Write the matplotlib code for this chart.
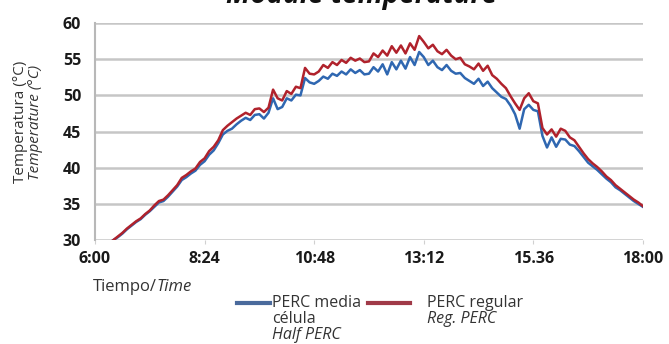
import numpy as np
import matplotlib
matplotlib.use("Agg")
import matplotlib.pyplot as plt
from matplotlib.lines import Line2D

plt.rcParams['font.family'] = ['Open Sans', 'DejaVu Sans']

# time of day in decimal hours
hours = [6.4, 6.5, 6.6, 6.7, 6.8, 6.9, 7.0, 7.1, 7.2, 7.3, 7.4, 7.5, 7.6, 7.7, 7.8, 7.9,
         8.0, 8.1, 8.2, 8.3, 8.4, 8.5, 8.6, 8.7, 8.8, 8.9, 9.0, 9.1, 9.2, 9.3, 9.4, 9.5,
         9.6, 9.7, 9.8, 9.9, 10.0, 10.1, 10.2, 10.3, 10.4, 10.5, 10.6, 10.7, 10.8, 10.9,
         11.0, 11.1, 11.2, 11.3, 11.4, 11.5, 11.6, 11.7, 11.8, 11.9, 12.0, 12.1, 12.2,
         12.3, 12.4, 12.5, 12.6, 12.7, 12.8, 12.9, 13.0, 13.1, 13.2, 13.3, 13.4, 13.5,
         13.6, 13.7, 13.8, 13.9, 14.0, 14.1, 14.2, 14.3, 14.4, 14.5, 14.6, 14.7, 14.8,
         14.9, 15.0, 15.1, 15.2, 15.3, 15.4, 15.5, 15.6, 15.7, 15.8, 15.9, 16.0, 16.1,
         16.2, 16.3, 16.4, 16.5, 16.6, 16.7, 16.8, 16.9, 17.0, 17.1, 17.2, 17.3, 17.4,
         17.5, 17.6, 17.7, 17.8, 17.9, 18.0]

# PERC regular (red)
temp_reg = [30.0, 30.5, 31.0, 31.6, 32.1, 32.6, 33.0, 33.6, 34.1, 34.8, 35.4, 35.6, 36.2,
            36.9, 37.6, 38.6, 39.0, 39.5, 39.9, 40.8, 41.3, 42.3, 42.9, 43.8, 45.2, 45.8,
            46.3, 46.8, 47.2, 47.6, 47.3, 48.1, 48.2, 47.7, 48.3, 50.8, 49.6, 49.3, 50.6,
            50.2, 51.2, 51.0, 53.8, 53.0, 52.9, 53.3, 54.2, 53.8, 54.6, 54.2, 54.9, 54.5,
            55.2, 54.8, 55.1, 54.6, 54.7, 55.8, 55.3, 56.2, 55.5, 56.8, 55.9, 56.9, 55.8,
            57.2, 56.3, 58.2, 57.4, 56.5, 57.0, 56.1, 55.7, 56.3, 55.5, 55.0, 55.2, 54.3,
            54.0, 53.6, 54.4, 53.4, 54.1, 52.8, 52.3, 51.6, 51.0, 49.9, 48.9, 48.0, 49.6,
            50.3, 49.2, 48.9, 45.5, 44.6, 45.3, 44.3, 45.4, 45.1, 44.2, 43.8, 42.9, 42.0,
            41.2, 40.6, 40.1, 39.5, 38.8, 38.3, 37.6, 37.1, 36.6, 36.1, 35.6, 35.2, 34.7]

# PERC media celula / half cell (blue)
temp_half = [30.0, 30.4, 30.9, 31.5, 32.0, 32.5, 32.9, 33.5, 34.0, 34.6, 35.2, 35.4, 36.0,
             36.7, 37.4, 38.3, 38.7, 39.2, 39.6, 40.4, 40.9, 41.8, 42.4, 43.4, 44.6, 45.1,
             45.4, 46.0, 46.5, 46.9, 46.6, 47.3, 47.4, 46.8, 47.6, 49.6, 48.1, 48.4, 49.6,
             49.3, 50.1, 50.0, 52.4, 51.8, 51.6, 52.0, 52.6, 52.3, 53.0, 52.7, 53.3, 52.9,
             53.6, 53.1, 53.5, 52.9, 53.0, 53.9, 53.3, 54.3, 52.9, 54.6, 53.6, 54.8, 53.7,
             55.3, 54.2, 56.0, 55.3, 54.2, 54.8, 53.9, 53.5, 54.2, 53.4, 53.0, 53.1, 52.4,
             52.0, 51.6, 52.3, 51.3, 51.9, 51.0, 50.4, 49.8, 49.5, 48.6, 47.4, 45.4, 48.1,
             48.7, 48.0, 47.8, 44.4, 42.8, 44.2, 42.9, 44.0, 43.9, 43.2, 43.0, 42.3, 41.5,
             40.7, 40.2, 39.7, 39.1, 38.5, 38.0, 37.3, 36.9, 36.4, 35.9, 35.4, 35.0, 34.6]

x_ticks = [6.0, 8.4, 10.8, 13.2, 15.6, 18.0]
x_ticklabels = ['6:00', '8:24', '10:48', '13:12', '15.36', '18:00']
y_ticks = [30, 35, 40, 45, 50, 55, 60]

blue = '#2f67b1'
red = '#b0222c'

fig = plt.figure(figsize=(6.69, 3.44), dpi=100)
ax = fig.add_axes([0.142, 0.302, 0.819, 0.631])

# gridlines
for v in y_ticks:
    ax.axhline(v, color='#c6c6c6', lw=1.8, zorder=1)

ax.plot(hours, temp_half, color=blue, lw=1.8, zorder=3)
ax.plot(hours, temp_reg, color=red, lw=1.8, zorder=4)

ax.set_xlim(6, 18)
ax.set_ylim(30, 60)
ax.set_xticks(x_ticks)
ax.set_xticklabels(x_ticklabels)
ax.set_yticks(y_ticks)
for s in ['top', 'right', 'bottom']:
    ax.spines[s].set_visible(False)
ax.spines['left'].set_color('#b8b8b8')
ax.spines['left'].set_linewidth(1.5)
ax.tick_params(axis='y', length=0, pad=10)
ax.tick_params(axis='x', length=3, color='#d0d0d0', pad=5)
for lab in ax.get_xticklabels() + ax.get_yticklabels():
    lab.set_fontsize(11.5)
    lab.set_fontweight('bold')
    lab.set_color('#1a1a1a')

# title, mostly cut off at the top edge as in the source image
fig.text(0.54, 1 - 3 / 344, 'Module temperature', ha='center', va='baseline',
         fontsize=20, fontweight='bold', fontstyle='italic', color='#111111')

# y axis label (two languages)
fig.text(0.030, 0.645, 'Temperatura (°C)', rotation=90, ha='center', va='center',
         fontsize=11, color='#333333')
fig.text(0.053, 0.645, 'Temperature (°C)', rotation=90, ha='center', va='center',
         fontsize=11, fontstyle='italic', color='#333333')

# x axis label
t1 = fig.text(0.139, 0.166, 'Tiempo/', ha='left', va='center', fontsize=12, color='#333333')
fig.canvas.draw()
bb = t1.get_window_extent()
fig.text(bb.x1 / fig.bbox.width, 0.166, 'Time', ha='left', va='center', fontsize=12,
         fontstyle='italic', color='#333333')

# legend
ly = 1 - 303 / 344
fig.add_artist(Line2D([237 / 669, 270 / 669], [ly, ly], color='#4a6a9c', lw=3))
fig.add_artist(Line2D([368 / 669, 410 / 669], [ly, ly], color='#a03a48', lw=3))
fig.text(272 / 669, ly, 'PERC media', ha='left', va='center', fontsize=11.5, color='#333333')
fig.text(272 / 669, ly - 16 / 344, 'célula', ha='left', va='center', fontsize=11.5, color='#333333')
fig.text(272 / 669, ly - 32 / 344, 'Half PERC', ha='left', va='center', fontsize=11.5,
         fontstyle='italic', color='#333333')
fig.text(427 / 669, ly, 'PERC regular', ha='left', va='center', fontsize=11.5, color='#333333')
fig.text(427 / 669, ly - 16 / 344, 'Reg. PERC', ha='left', va='center', fontsize=11.5,
         fontstyle='italic', color='#333333')

fig.savefig('out.png', dpi=100)
